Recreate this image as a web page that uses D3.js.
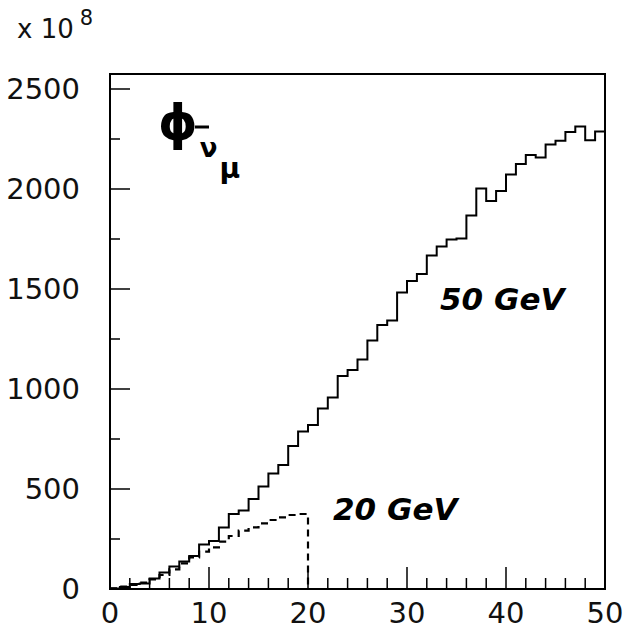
<!DOCTYPE html>
<html><head><meta charset="utf-8">
<script src="https://cdn.jsdelivr.net/npm/d3@7"></script>
<style>body{margin:0;background:#fff}svg{display:block}</style>
</head><body>
<svg id="c" width="623" height="629"></svg>
<script>
// 50 GeV histogram (bins of width 1 from 0 to 50), units of 1e8
const flux50 = [3,10,25,28,53,82,112,137,165,223,
  240,307,375,392,450,512,578,620,715,787,
  820,903,957,1065,1095,1148,1242,1320,1343,1482,
  1540,1575,1667,1712,1748,1752,1868,2003,1940,1990,
  2072,2125,2170,2158,2222,2241,2285,2312,2244,2288];
// 20 GeV histogram (bins of width 1 from 0 to 20)
const flux20 = [3,12,20,32,48,70,98,128,158,187,
  208,237,265,292,308,328,345,358,370,375];
const xTickLabels = [0,10,20,30,40,50];
const yTickLabels = [0,500,1000,1500,2000,2500];
const xDomain = [0,50], yDomain = [0,2575];

const svg = d3.select("#c");
const L=110, R=605, T=74, B=589;
const x = d3.scaleLinear().domain(xDomain).range([L,R]);
const y = d3.scaleLinear().domain(yDomain).range([B,T]);
const font = "'DejaVu Sans', sans-serif";

// frame
svg.append("rect").attr("x",L).attr("y",T).attr("width",R-L).attr("height",B-T)
  .attr("fill","none").attr("stroke","#000").attr("stroke-width",2);

// y axis ticks (inward)
const yMinor = d3.range(0,2501,250);
svg.append("g").selectAll("line").data(yMinor).join("line")
  .attr("x1",L).attr("x2",d=>L+(d%500===0?20:10))
  .attr("y1",d=>y(d)).attr("y2",d=>y(d)).attr("stroke","#000").attr("stroke-width",1.5);
svg.append("g").selectAll("text").data(yTickLabels).join("text")
  .attr("x",80).attr("y",d=>y(d)).attr("dy","0.36em").attr("text-anchor","end")
  .attr("font-family",font).attr("font-size",29).attr("fill","#111").text(d=>d);

// x axis ticks (upward)
const xMinor = d3.range(0,51,2);
svg.append("g").selectAll("line").data(xMinor).join("line")
  .attr("x1",d=>x(d)).attr("x2",d=>x(d))
  .attr("y1",B).attr("y2",d=>B-(d%10===0?22:11)).attr("stroke","#000").attr("stroke-width",1.5);
svg.append("g").selectAll("text").data(xTickLabels).join("text")
  .attr("x",d=>x(d)).attr("y",623).attr("text-anchor","middle")
  .attr("font-family",font).attr("font-size",29).attr("fill","#111").text(d=>d);

// scale factor
const sf = svg.append("text").attr("x",17).attr("y",38).attr("font-family",font).attr("font-size",26).attr("fill","#111");
sf.append("tspan").text("x 10");
sf.append("tspan").attr("dx",6).attr("dy",-13).attr("font-size",21).text("8");

// histograms
const line = d3.line().x(d=>x(d[0])).y(d=>y(d[1])).curve(d3.curveStepAfter);
const pts50 = flux50.map((v,i)=>[i,v]); pts50.push([50,flux50[49]]);
svg.append("path").attr("d",line(pts50)).attr("fill","none").attr("stroke","#000").attr("stroke-width",2);
const pts20 = flux20.map((v,i)=>[i,v]); pts20.push([20,flux20[19]]);
const p20 = line(pts20) + "L" + x(20) + "," + y(0);
svg.append("path").attr("d",p20).attr("fill","none").attr("stroke","#000")
  .attr("stroke-width",2.2).attr("stroke-dasharray","7,5");

// annotations: phi with subscript nu-bar mu, as one text
const phi = svg.append("text").attr("x",158).attr("y",140).attr("font-family",font)
  .attr("font-weight","bold");
phi.append("tspan").attr("font-size",50).text("ϕ");
phi.append("tspan").attr("font-size",26).attr("dx",2).attr("dy",17).text("ν");
phi.append("tspan").attr("font-size",28).attr("dx",2).attr("dy",21).text("μ");
svg.append("line").attr("x1",195).attr("x2",209).attr("y1",127).attr("y2",127).attr("stroke","#000").attr("stroke-width",3);

svg.append("text").attr("x",440).attr("y",310).attr("font-family",font).attr("font-size",31)
  .attr("font-weight","bold").attr("font-style","italic").text("50 GeV");
svg.append("text").attr("x",333).attr("y",520).attr("font-family",font).attr("font-size",31)
  .attr("font-weight","bold").attr("font-style","italic").text("20 GeV");
</script>
</body></html>
